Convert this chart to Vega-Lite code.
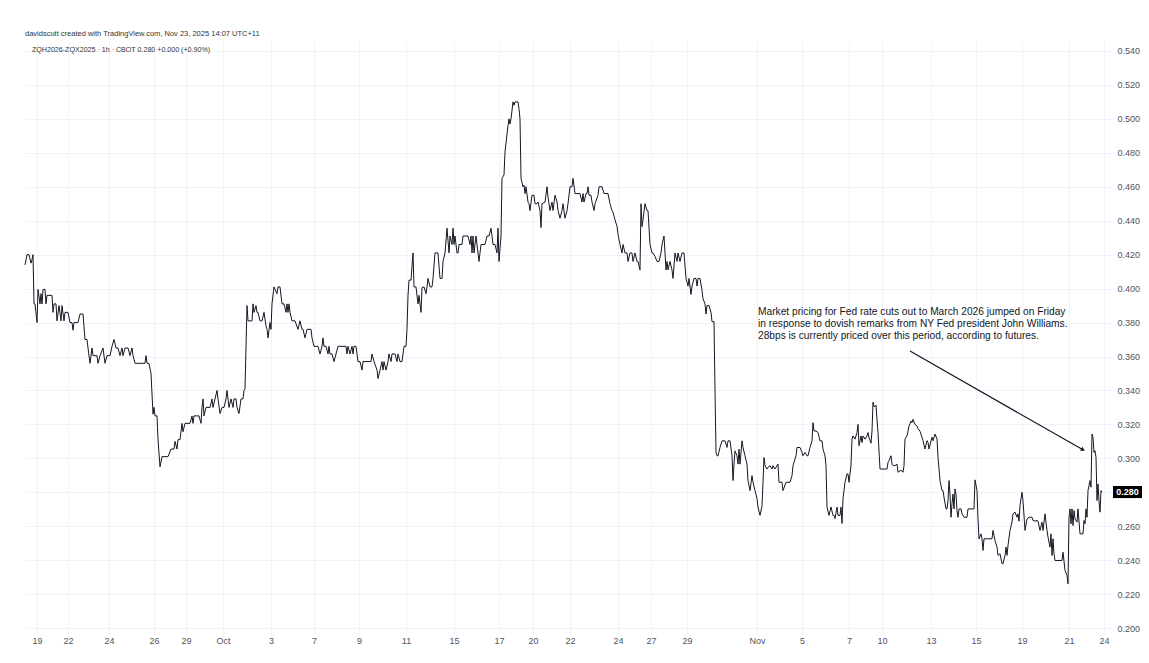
{
  "$schema": "https://vega.github.io/schema/vega-lite/v6.json",
  "autosize": "none",
  "width": 1087,
  "height": 592,
  "padding": {"left": 25, "top": 42, "right": 37, "bottom": 29},
  "background": "#ffffff",
  "config": {
    "font": "Liberation Sans",
    "view": {"stroke": null},
    "axis": {"gridColor": "#f0f3fa", "gridWidth": 1, "ticks": false, "domain": false, "labelColor": "#50535e", "labelFontSize": 9, "labelFont": "Liberation Sans", "title": null}
  },
  "title": {"text": "davidscutt created with TradingView.com, Nov 23, 2025 14:07 UTC+11", "anchor": "start", "frame": "group", "fontSize": 7.5, "fontWeight": "normal", "color": "#333333", "offset": 5},
  "datasets": {
    "series": [
      {"h":0,"v":0.414},{"h":2,"v":0.42},{"h":4,"v":0.42},{"h":6,"v":0.415},{"h":7,"v":0.417},{"h":8,"v":0.42},{"h":9,"v":0.391},{"h":10,"v":0.391},{"h":12,"v":0.38},{"h":13,"v":0.3995},{"h":15,"v":0.391},{"h":16,"v":0.397},{"h":17,"v":0.391},{"h":18,"v":0.3995},{"h":20,"v":0.3995},{"h":21,"v":0.391},{"h":22,"v":0.396},{"h":27,"v":0.396},{"h":28,"v":0.386},{"h":29,"v":0.391},{"h":31,"v":0.391},{"h":32,"v":0.381},{"h":34,"v":0.39},{"h":36,"v":0.381},{"h":37,"v":0.39},{"h":39,"v":0.381},{"h":40,"v":0.386},{"h":43,"v":0.386},{"h":45,"v":0.38},{"h":47,"v":0.38},{"h":48,"v":0.3755},{"h":49,"v":0.38},{"h":53,"v":0.38},{"h":55,"v":0.385},{"h":58,"v":0.385},{"h":60,"v":0.37},{"h":62,"v":0.37},{"h":63,"v":0.365},{"h":65,"v":0.356},{"h":67,"v":0.365},{"h":68,"v":0.3605},{"h":72,"v":0.3605},{"h":73,"v":0.356},{"h":75,"v":0.3605},{"h":78,"v":0.365},{"h":80,"v":0.356},{"h":82,"v":0.3605},{"h":85,"v":0.3605},{"h":87,"v":0.366},{"h":89,"v":0.37},{"h":91,"v":0.365},{"h":93,"v":0.365},{"h":95,"v":0.3605},{"h":97,"v":0.365},{"h":98,"v":0.3605},{"h":100,"v":0.365},{"h":103,"v":0.365},{"h":105,"v":0.3605},{"h":107,"v":0.365},{"h":108,"v":0.3605},{"h":110,"v":0.356},{"h":120,"v":0.356},{"h":121,"v":0.3605},{"h":122,"v":0.356},{"h":124,"v":0.356},{"h":126,"v":0.35},{"h":128,"v":0.326},{"h":129,"v":0.33},{"h":130,"v":0.325},{"h":132,"v":0.325},{"h":133,"v":0.311},{"h":135,"v":0.295},{"h":137,"v":0.301},{"h":143,"v":0.301},{"h":146,"v":0.3055},{"h":149,"v":0.3055},{"h":150,"v":0.31},{"h":152,"v":0.3055},{"h":153,"v":0.311},{"h":155,"v":0.311},{"h":157,"v":0.3206},{"h":158,"v":0.3157},{"h":160,"v":0.3206},{"h":165,"v":0.3206},{"h":167,"v":0.325},{"h":168,"v":0.3206},{"h":169,"v":0.325},{"h":174,"v":0.325},{"h":176,"v":0.3206},{"h":177,"v":0.33},{"h":178,"v":0.335},{"h":179,"v":0.325},{"h":181,"v":0.33},{"h":185,"v":0.33},{"h":187,"v":0.335},{"h":188,"v":0.33},{"h":190,"v":0.335},{"h":192,"v":0.34},{"h":193,"v":0.335},{"h":195,"v":0.3264},{"h":197,"v":0.33},{"h":199,"v":0.33},{"h":201,"v":0.335},{"h":202,"v":0.34},{"h":204,"v":0.33},{"h":206,"v":0.335},{"h":208,"v":0.33},{"h":209,"v":0.335},{"h":211,"v":0.335},{"h":212,"v":0.33},{"h":214,"v":0.3264},{"h":216,"v":0.335},{"h":218,"v":0.335},{"h":219,"v":0.34},{"h":220,"v":0.341},{"h":222,"v":0.39},{"h":223,"v":0.381},{"h":224,"v":0.381},
      {"h":226,"v":0.381},{"h":227,"v":0.381},{"h":228,"v":0.391},{"h":229,"v":0.386},{"h":231,"v":0.39},{"h":232,"v":0.386},{"h":233,"v":0.386},{"h":235,"v":0.381},{"h":237,"v":0.381},{"h":239,"v":0.386},{"h":241,"v":0.378},{"h":242,"v":0.376},{"h":243,"v":0.371},{"h":245,"v":0.38},{"h":246,"v":0.376},{"h":247,"v":0.391},{"h":249,"v":0.401},{"h":252,"v":0.397},{"h":253,"v":0.401},{"h":255,"v":0.401},{"h":257,"v":0.391},{"h":259,"v":0.391},{"h":261,"v":0.386},{"h":262,"v":0.391},{"h":263,"v":0.386},{"h":264,"v":0.391},{"h":265,"v":0.386},{"h":267,"v":0.381},{"h":270,"v":0.381},{"h":273,"v":0.376},{"h":275,"v":0.381},{"h":277,"v":0.376},{"h":278,"v":0.376},{"h":280,"v":0.371},{"h":282,"v":0.376},{"h":286,"v":0.376},{"h":287,"v":0.371},{"h":289,"v":0.366},{"h":293,"v":0.366},{"h":295,"v":0.3615},{"h":297,"v":0.366},{"h":298,"v":0.371},{"h":299,"v":0.366},{"h":301,"v":0.366},{"h":303,"v":0.3615},{"h":304,"v":0.366},{"h":305,"v":0.3615},{"h":307,"v":0.3615},{"h":309,"v":0.357},{"h":311,"v":0.3615},{"h":313,"v":0.366},{"h":321,"v":0.366},{"h":322,"v":0.3615},{"h":323,"v":0.366},{"h":325,"v":0.3615},{"h":327,"v":0.366},{"h":328,"v":0.3615},{"h":329,"v":0.366},{"h":331,"v":0.366},{"h":332,"v":0.3615},{"h":333,"v":0.357},{"h":335,"v":0.357},{"h":337,"v":0.352},{"h":338,"v":0.357},{"h":346,"v":0.357},{"h":347,"v":0.3615},{"h":349,"v":0.357},{"h":352,"v":0.352},{"h":353,"v":0.347},{"h":355,"v":0.352},{"h":357,"v":0.357},{"h":358,"v":0.352},{"h":359,"v":0.357},{"h":361,"v":0.352},{"h":363,"v":0.357},{"h":364,"v":0.3615},{"h":366,"v":0.357},{"h":367,"v":0.3615},{"h":370,"v":0.3615},{"h":372,"v":0.357},{"h":373,"v":0.3615},{"h":375,"v":0.357},{"h":377,"v":0.357},{"h":378,"v":0.3615},{"h":379,"v":0.366},{"h":381,"v":0.366},{"h":382,"v":0.376},{"h":383,"v":0.396},{"h":384,"v":0.405},{"h":386,"v":0.405},{"h":388,"v":0.421},{"h":389,"v":0.401},{"h":391,"v":0.401},{"h":393,"v":0.391},{"h":394,"v":0.396},{"h":396,"v":0.386},{"h":397,"v":0.4005},{"h":399,"v":0.401},{"h":401,"v":0.397},{"h":402,"v":0.401},{"h":403,"v":0.406},{"h":405,"v":0.401},{"h":407,"v":0.401},{"h":408,"v":0.406},{"h":410,"v":0.421},{"h":413,"v":0.421},{"h":415,"v":0.406},{"h":417,"v":0.406},{"h":418,"v":0.416},{"h":420,"v":0.421},{"h":422,"v":0.4356},{"h":424,"v":0.421},{"h":425,"v":0.431},{"h":427,"v":0.426},{"h":428,"v":0.4356},{"h":429,"v":0.426},{"h":430,"v":0.431},
      {"h":432,"v":0.421},{"h":433,"v":0.421},{"h":434,"v":0.426},{"h":437,"v":0.426},{"h":438,"v":0.431},{"h":443,"v":0.431},{"h":445,"v":0.426},{"h":446,"v":0.431},{"h":447,"v":0.421},{"h":448,"v":0.431},{"h":449,"v":0.421},{"h":451,"v":0.431},{"h":452,"v":0.426},{"h":454,"v":0.416},{"h":456,"v":0.426},{"h":460,"v":0.426},{"h":462,"v":0.431},{"h":464,"v":0.431},{"h":466,"v":0.4356},{"h":467,"v":0.431},{"h":468,"v":0.426},{"h":470,"v":0.426},{"h":472,"v":0.421},{"h":473,"v":0.4356},{"h":474,"v":0.416},{"h":476,"v":0.431},{"h":477,"v":0.465},{"h":479,"v":0.467},{"h":480,"v":0.4805},{"h":482,"v":0.491},{"h":483,"v":0.496},{"h":484,"v":0.5},{"h":485,"v":0.497},{"h":486,"v":0.5},{"h":487,"v":0.505},{"h":488,"v":0.51},{"h":489,"v":0.508},{"h":490,"v":0.51},{"h":493,"v":0.51},{"h":494,"v":0.506},{"h":495,"v":0.5},{"h":496,"v":0.465},{"h":498,"v":0.46},{"h":499,"v":0.461},{"h":500,"v":0.456},{"h":501,"v":0.46},{"h":503,"v":0.451},{"h":504,"v":0.45},{"h":505,"v":0.446},{"h":507,"v":0.455},{"h":509,"v":0.455},{"h":510,"v":0.45},{"h":512,"v":0.45},{"h":513,"v":0.451},{"h":515,"v":0.446},{"h":516,"v":0.436},{"h":517,"v":0.45},{"h":520,"v":0.451},{"h":522,"v":0.46},{"h":523,"v":0.454},{"h":525,"v":0.446},{"h":527,"v":0.451},{"h":528,"v":0.446},{"h":530,"v":0.455},{"h":532,"v":0.451},{"h":533,"v":0.446},{"h":535,"v":0.4415},{"h":537,"v":0.446},{"h":538,"v":0.45},{"h":540,"v":0.4415},{"h":542,"v":0.446},{"h":543,"v":0.45},{"h":545,"v":0.46},{"h":547,"v":0.46},{"h":548,"v":0.465},{"h":550,"v":0.456},{"h":555,"v":0.456},{"h":557,"v":0.451},{"h":558,"v":0.456},{"h":559,"v":0.451},{"h":561,"v":0.456},{"h":562,"v":0.456},{"h":563,"v":0.46},{"h":564,"v":0.455},{"h":566,"v":0.455},{"h":567,"v":0.451},{"h":569,"v":0.446},{"h":570,"v":0.45},{"h":573,"v":0.455},{"h":574,"v":0.46},{"h":577,"v":0.46},{"h":579,"v":0.456},{"h":583,"v":0.456},{"h":585,"v":0.45},{"h":587,"v":0.446},{"h":588,"v":0.445},{"h":590,"v":0.4405},{"h":592,"v":0.4366},{"h":593,"v":0.432},{"h":595,"v":0.426},{"h":597,"v":0.421},{"h":598,"v":0.426},{"h":600,"v":0.421},{"h":602,"v":0.421},{"h":603,"v":0.416},{"h":605,"v":0.421},{"h":607,"v":0.421},{"h":608,"v":0.416},{"h":610,"v":0.421},{"h":612,"v":0.416},{"h":613,"v":0.416},{"h":615,"v":0.411},{"h":616,"v":0.45},{"h":617,"v":0.4366},{"h":618,"v":0.4405},{"h":620,"v":0.45},{"h":622,"v":0.446},{"h":623,"v":0.446},{"h":625,"v":0.426},{"h":627,"v":0.421},{"h":628,"v":0.421},{"h":630,"v":0.419},{"h":632,"v":0.416},{"h":634,"v":0.416},{"h":636,"v":0.421},{"h":637,"v":0.426},{"h":639,"v":0.431},{"h":641,"v":0.411},{"h":642,"v":0.416},{"h":643,"v":0.411},{"h":645,"v":0.416},{"h":647,"v":0.411},{"h":648,"v":0.406},{"h":650,"v":0.421},{"h":652,"v":0.416},{"h":653,"v":0.421},{"h":655,"v":0.416},{"h":657,"v":0.421},{"h":659,"v":0.421},{"h":661,"v":0.406},{"h":663,"v":0.4015},{"h":664,"v":0.406},{"h":666,"v":0.3966},{"h":667,"v":0.4015},{"h":669,"v":0.406},{"h":671,"v":0.406},{"h":672,"v":0.4015},{"h":673,"v":0.406},{"h":675,"v":0.406},
      {"h":677,"v":0.399},{"h":678,"v":0.394},{"h":680,"v":0.391},{"h":681,"v":0.385},{"h":682,"v":0.39},{"h":684,"v":0.39},{"h":686,"v":0.386},{"h":687,"v":0.3805},{"h":689,"v":0.3805},{"h":690,"v":0.3405},{"h":691,"v":0.3035},{"h":692,"v":0.3015},{"h":693,"v":0.3015},{"h":695,"v":0.3064},{"h":697,"v":0.3103},{"h":700,"v":0.3103},{"h":702,"v":0.3064},{"h":703,"v":0.3103},{"h":705,"v":0.3103},{"h":707,"v":0.3015},{"h":708,"v":0.2869},{"h":709,"v":0.2966},{"h":710,"v":0.3044},{"h":712,"v":0.3015},{"h":713,"v":0.2966},{"h":714,"v":0.3054},{"h":715,"v":0.2966},{"h":717,"v":0.3103},{"h":718,"v":0.3064},{"h":720,"v":0.3015},{"h":722,"v":0.2966},{"h":723,"v":0.2869},{"h":725,"v":0.281},{"h":727,"v":0.2898},{"h":728,"v":0.2859},{"h":730,"v":0.281},{"h":732,"v":0.2762},{"h":733,"v":0.2713},{"h":735,"v":0.2664},{"h":737,"v":0.272},{"h":738,"v":0.2859},{"h":739,"v":0.3005},{"h":740,"v":0.2957},{"h":742,"v":0.2937},{"h":743,"v":0.2947},{"h":745,"v":0.2957},{"h":747,"v":0.2937},{"h":748,"v":0.2957},{"h":750,"v":0.2937},{"h":752,"v":0.2957},{"h":753,"v":0.2966},{"h":754,"v":0.2859},{"h":757,"v":0.2859},{"h":758,"v":0.281},{"h":761,"v":0.2859},{"h":765,"v":0.2859},{"h":767,"v":0.2898},{"h":768,"v":0.2957},{"h":771,"v":0.3015},{"h":772,"v":0.3064},{"h":775,"v":0.3064},{"h":777,"v":0.3035},{"h":778,"v":0.3015},{"h":780,"v":0.3035},{"h":782,"v":0.3015},{"h":783,"v":0.3015},{"h":785,"v":0.3064},{"h":787,"v":0.3103},{"h":788,"v":0.321},{"h":789,"v":0.3161},{"h":791,"v":0.3161},{"h":793,"v":0.3152},{"h":795,"v":0.3103},{"h":797,"v":0.3103},{"h":798,"v":0.3054},{"h":800,"v":0.3015},{"h":801,"v":0.2957},{"h":802,"v":0.2713},{"h":804,"v":0.2664},{"h":806,"v":0.2713},{"h":808,"v":0.2664},{"h":809,"v":0.2664},{"h":810,"v":0.2645},{"h":812,"v":0.2713},{"h":813,"v":0.2664},{"h":815,"v":0.2664},{"h":816,"v":0.2713},{"h":817,"v":0.2616},{"h":818,"v":0.2762},{"h":820,"v":0.2859},{"h":822,"v":0.2908},{"h":823,"v":0.2908},{"h":824,"v":0.2859},{"h":826,"v":0.2957},{"h":827,"v":0.3113},{"h":828,"v":0.3132},{"h":830,"v":0.3113},{"h":832,"v":0.3152},{"h":833,"v":0.32},{"h":834,"v":0.3074},{"h":836,"v":0.3132},{"h":837,"v":0.3093},{"h":838,"v":0.3132},{"h":840,"v":0.3113},{"h":842,"v":0.3132},{"h":843,"v":0.3152},{"h":844,"v":0.3122},{"h":846,"v":0.3089},{"h":847,"v":0.3161},{"h":848,"v":0.3331},{"h":849,"v":0.3304},{"h":851,"v":0.3312},{"h":852,"v":0.323},{"h":853,"v":0.3152},{"h":855,"v":0.2937},{"h":860,"v":0.2937},{"h":862,"v":0.2937},{"h":863,"v":0.2976},{"h":864,"v":0.2986},{"h":866,"v":0.3015},{"h":867,"v":0.2966},{"h":868,"v":0.2957},{"h":870,"v":0.2957},{"h":872,"v":0.2966},{"h":873,"v":0.2918},{"h":875,"v":0.2927},{"h":877,"v":0.2927},{"h":878,"v":0.2918},{"h":879,"v":0.2957},{"h":880,"v":0.3113},{"h":882,"v":0.3132},{"h":884,"v":0.319},{"h":886,"v":0.322},{"h":887,"v":0.321},{"h":888,"v":0.323},{"h":890,"v":0.32},{"h":892,"v":0.319},{"h":893,"v":0.3175},{"h":895,"v":0.316},
      {"h":897,"v":0.3124},{"h":898,"v":0.3104},{"h":900,"v":0.3055},{"h":902,"v":0.3104},{"h":903,"v":0.3094},{"h":904,"v":0.3055},{"h":906,"v":0.3104},{"h":907,"v":0.3124},{"h":908,"v":0.3104},{"h":910,"v":0.3143},{"h":912,"v":0.3114},{"h":913,"v":0.3006},{"h":915,"v":0.2869},{"h":917,"v":0.281},{"h":918,"v":0.281},{"h":919,"v":0.2771},{"h":921,"v":0.2702},{"h":922,"v":0.2702},{"h":923,"v":0.2751},{"h":924,"v":0.2869},{"h":925,"v":0.279},{"h":926,"v":0.2653},{"h":927,"v":0.2732},{"h":928,"v":0.279},{"h":929,"v":0.2702},{"h":930,"v":0.282},{"h":931,"v":0.279},{"h":932,"v":0.2692},{"h":933,"v":0.2653},{"h":934,"v":0.2702},{"h":936,"v":0.2702},{"h":937,"v":0.2673},{"h":939,"v":0.2653},{"h":942,"v":0.2653},{"h":943,"v":0.2702},{"h":949,"v":0.2702},{"h":950,"v":0.2873},{"h":952,"v":0.281},{"h":953,"v":0.2643},{"h":954,"v":0.2526},{"h":956,"v":0.2555},{"h":957,"v":0.2526},{"h":958,"v":0.2457},{"h":959,"v":0.2526},{"h":967,"v":0.2526},{"h":968,"v":0.2575},{"h":970,"v":0.2516},{"h":972,"v":0.2477},{"h":973,"v":0.2428},{"h":975,"v":0.2438},{"h":977,"v":0.2379},{"h":978,"v":0.2379},{"h":980,"v":0.2428},{"h":981,"v":0.2477},{"h":982,"v":0.2428},{"h":983,"v":0.2487},{"h":985,"v":0.2575},{"h":987,"v":0.2624},{"h":988,"v":0.2673},{"h":990,"v":0.2683},{"h":992,"v":0.2653},{"h":993,"v":0.2673},{"h":994,"v":0.263},{"h":995,"v":0.2722},{"h":997,"v":0.28},{"h":998,"v":0.2751},{"h":1000,"v":0.2575},{"h":1002,"v":0.2643},{"h":1004,"v":0.2653},{"h":1007,"v":0.2653},{"h":1008,"v":0.2634},{"h":1010,"v":0.263},{"h":1012,"v":0.2634},{"h":1013,"v":0.263},{"h":1015,"v":0.2575},{"h":1017,"v":0.2624},{"h":1018,"v":0.2575},{"h":1020,"v":0.2673},{"h":1022,"v":0.2575},{"h":1023,"v":0.2536},{"h":1025,"v":0.2477},{"h":1026,"v":0.2555},{"h":1027,"v":0.2428},{"h":1028,"v":0.2526},{"h":1029,"v":0.2438},{"h":1030,"v":0.2398},{"h":1032,"v":0.2398},{"h":1037,"v":0.2398},{"h":1038,"v":0.2447},{"h":1040,"v":0.234},{"h":1042,"v":0.2311},{"h":1043,"v":0.2261},{"h":1044,"v":0.2653},{"h":1045,"v":0.2702},{"h":1046,"v":0.2614},{"h":1047,"v":0.2702},{"h":1048,"v":0.2604},{"h":1049,"v":0.2692},{"h":1050,"v":0.2643},{"h":1052,"v":0.2624},{"h":1053,"v":0.2702},{"h":1055,"v":0.2555},{"h":1058,"v":0.2555},{"h":1059,"v":0.2634},{"h":1060,"v":0.2614},{"h":1061,"v":0.2702},{"h":1062,"v":0.2653},{"h":1063,"v":0.281},{"h":1065,"v":0.2869},{"h":1066,"v":0.283},{"h":1067,"v":0.3143},{"h":1068,"v":0.3124},{"h":1069,"v":0.3035},{"h":1070,"v":0.3045},{"h":1071,"v":0.3006},{"h":1072,"v":0.2751},{"h":1073,"v":0.2849},{"h":1074,"v":0.2751},{"h":1075,"v":0.2683},{"h":1076,"v":0.281},{"h":1077,"v":0.28}
    ]
  },
  "layer": [
    {
      "data": {"name": "series"},
      "mark": {"type": "line", "color": "#131722", "strokeWidth": 1, "interpolate": "linear"},
      "encoding": {
        "x": {"field": "h", "type": "quantitative", "scale": {"domain": [0, 1087], "nice": false, "zero": false},
          "axis": {"values": [12,43,84,129,161,198,246,289,334,381,429,474,508,545,593,626,662,732,777,824,857,906,951,997,1044,1079],
            "tickCount": 40,
            "labelExpr": "['19','22','24','26','29','Oct','3','7','9','11','15','17','20','22','24','27','29','Nov','5','7','10','13','15','19','21','24'][indexof([12,43,84,129,161,198,246,289,334,381,429,474,508,545,593,626,662,732,777,824,857,906,951,997,1044,1079], datum.value)]",
            "labelPadding": 2, "labelOverlap": false, "labelFlush": false, "grid": true}},
        "y": {"field": "v", "type": "quantitative", "scale": {"domain": [0.1965, 0.5453], "nice": false, "zero": false},
          "axis": {"orient": "right", "values": [0.2,0.22,0.24,0.26,0.28,0.3,0.32,0.34,0.36,0.38,0.4,0.42,0.44,0.46,0.48,0.5,0.52,0.54], "tickCount": 30, "format": ".3f", "labelPadding": 5, "grid": true, "labelAlign": "left", "labelOverlap": false, "labelFlush": false}}
      }
    },
    {
      "data": {"values": [{"label": "ZQH2026-ZQX2025 · 1h · CBOT  0.280  +0.000 (+0.90%)"}]},
      "mark": {"type": "text", "align": "left", "baseline": "middle", "fontSize": 7.1, "color": "#333333"},
      "encoding": {"x": {"datum": 7}, "y": {"datum": 0.5406}, "text": {"field": "label"}}
    },
    {
      "data": {"values": [{"label": "annotation"}]},
      "mark": {"type": "text", "align": "left", "baseline": "top", "fontSize": 10.2, "lineHeight": 11.7, "color": "#131722", "font": "Liberation Sans",
        "text": ["Market pricing for Fed rate cuts out to March 2026 jumped on Friday", "in response to dovish remarks from NY Fed president John Williams.", "28bps is currently priced over this period, according to futures."]},
      "encoding": {"x": {"datum": 733}, "y": {"datum": 0.3891}}
    },
    {
      "data": {"values": [{"label": "arrow"}]},
      "mark": {"type": "rule", "color": "#131722", "strokeWidth": 1.2},
      "encoding": {"x": {"datum": 885}, "y": {"datum": 0.3632}, "x2": {"datum": 1058}, "y2": {"datum": 0.305}}
    },
    {
      "data": {"values": [{"label": "arrowhead"}]},
      "mark": {"type": "point", "shape": "triangle-right", "filled": true, "color": "#131722", "size": 22, "angle": 30, "opacity": 1},
      "encoding": {"x": {"datum": 1058}, "y": {"datum": 0.305}}
    },
    {
      "data": {"values": [{"label": "last"}]},
      "mark": {"type": "rect", "color": "#000000"},
      "encoding": {"x": {"datum": 1088}, "x2": {"datum": 1117}, "y": {"datum": 0.2837}, "y2": {"datum": 0.2766}}
    },
    {
      "data": {"values": [{"label": "0.280"}]},
      "mark": {"type": "text", "align": "center", "baseline": "middle", "fontSize": 9, "fontWeight": "bold", "color": "#ffffff"},
      "encoding": {"x": {"datum": 1102.5}, "y": {"datum": 0.2801}, "text": {"field": "label"}}
    }
  ]
}
